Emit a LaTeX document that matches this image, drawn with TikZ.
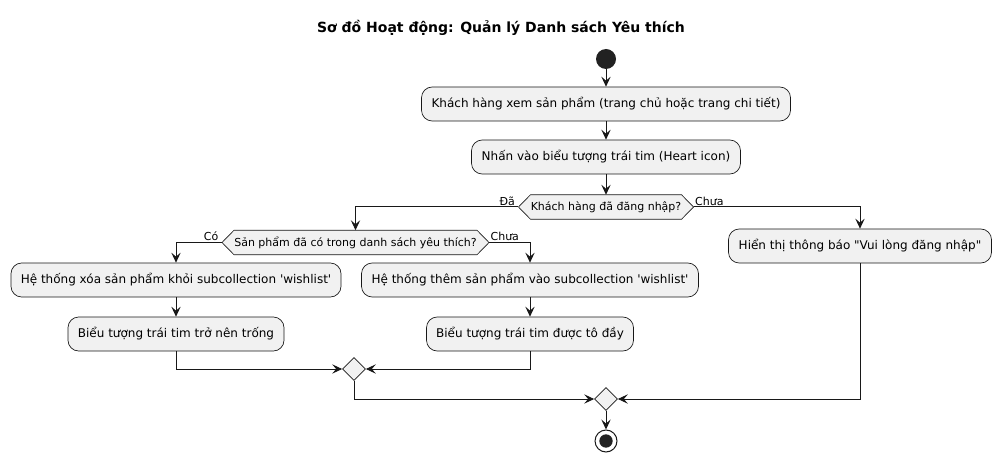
\documentclass[tikz,border=0pt]{standalone}
\usepackage{fontspec}
\setmainfont{DejaVu Sans}
\usetikzlibrary{shapes.geometric,arrows.meta,positioning,backgrounds}
\definecolor{linegray}{HTML}{181818}
\definecolor{boxfill}{HTML}{F1F1F1}
\definecolor{dotfill}{HTML}{222222}
\tikzset{
  act/.style    ={rectangle, rounded corners=8pt, draw=linegray, fill=boxfill, line width=0.5pt,
                  align=center, minimum height=25.5pt, inner sep=0pt, font=\fontsize{9}{11}\selectfont},
  cond/.style   ={rectangle, minimum height=18pt, inner sep=0pt, font=\fontsize{8.25}{10}\selectfont},
  condline/.style={draw=linegray, fill=boxfill, line width=0.5pt},
  merge/.style  ={diamond, aspect=1, draw=linegray, fill=boxfill, line width=0.5pt,
                  minimum size=17.25pt, inner sep=0pt},
  startdot/.style={circle, fill=dotfill, minimum size=15pt, inner sep=0pt},
  enddot/.style ={circle, draw=linegray, fill=white, line width=0.75pt, minimum size=16.5pt, inner sep=0pt},
  flow/.style   ={-{Stealth[length=7.5pt, width=7pt, inset=3pt]}, draw=linegray, line width=0.75pt},
  guard/.style  ={font=\fontsize{8.25}{10}\selectfont, inner sep=1pt}
}
\begin{document}
\begin{tikzpicture}[x=0.75pt, y=-0.75pt]
\useasboundingbox (0,0) rectangle (1002,463);
\node[font=\bfseries\fontsize{10.5}{12}\selectfont] (title) at (501,28) {Sơ đồ Hoạt động: Quản lý Danh sách Yêu thích};
\node[startdot] (start) at (606,59) {};
\node[act, minimum width=276.75pt] (view) at (606,104) {Khách hàng xem sản phẩm (trang chủ hoặc trang chi tiết)};
\node[act, minimum width=201.75pt] (heart) at (606,157) {Nhấn vào biểu tượng trái tim (Heart icon)};
\node[cond, minimum width=111pt] (login) at (606,207) {Khách hàng đã đăng nhập?};
\node[cond, minimum width=180pt] (inlist) at (355.5,242.5) {Sản phẩm đã có trong danh sách yêu thích?};
\node[act, minimum width=247.5pt] (remove) at (176,280) {Hệ thống xóa sản phẩm khỏi subcollection \textquotesingle wishlist\textquotesingle};
\node[act, minimum width=162pt] (empty) at (176,334) {Biểu tượng trái tim trở nên trống};
\node[act, minimum width=252.75pt] (add) at (530,280) {Hệ thống thêm sản phẩm vào subcollection \textquotesingle wishlist\textquotesingle};
\node[act, minimum width=155.25pt] (filled) at (530,334) {Biểu tượng trái tim được tô đầy};
\node[act, minimum width=197.25pt] (notice) at (860,246) {Hiển thị thông báo \textquotedbl Vui lòng đăng nhập\textquotedbl};
\node[merge] (mergeA) at (354,369) {};
\node[merge] (mergeB) at (606,399) {};
\node[enddot] (stop) at (606,441) {};
\node[circle, fill=dotfill, minimum size=10pt, inner sep=0pt] (stopdot) at (stop) {};

% hexagon outlines behind the decision texts
\begin{scope}[on background layer]
\draw[condline] ([xshift=-9pt]login.west) coordinate (loginW) -- (login.north west) -- (login.north east)
  -- ([xshift=9pt]login.east) coordinate (loginE) -- (login.south east) -- (login.south west) -- cycle;
\draw[condline] ([xshift=-9pt]inlist.west) coordinate (inlistW) -- (inlist.north west) -- (inlist.north east)
  -- ([xshift=9pt]inlist.east) coordinate (inlistE) -- (inlist.south east) -- (inlist.south west) -- cycle;
\end{scope}

\draw[flow] (start) -- (view);
\draw[flow] (view) -- (heart);
\draw[flow] (heart) -- (login);
\draw[flow] (loginW) -| (inlist.north);
\draw[flow] (loginE) -| (notice.north);
\node[guard, anchor=south east] (yesA) at ([xshift=-1.5pt]loginW) {Đã};
\node[guard, anchor=south west] (noA) at (loginE) {Chưa};
\draw[flow] (inlistW) -| (remove.north);
\draw[flow] (inlistE) -| (add.north);
\node[guard, anchor=south east] (yesB) at ([xshift=-1.5pt]inlistW) {Có};
\node[guard, anchor=south west] (noB) at (inlistE) {Chưa};
\draw[flow] (remove) -- (empty);
\draw[flow] (add) -- (filled);
\draw[flow] (empty.south) |- (mergeA.west);
\draw[flow] (filled.south) |- (mergeA.east);
\draw[flow] (mergeA.south) |- (mergeB.west);
\draw[flow] (notice.south) |- (mergeB.east);
\draw[flow] (mergeB) -- (stop);
\end{tikzpicture}
\end{document}
